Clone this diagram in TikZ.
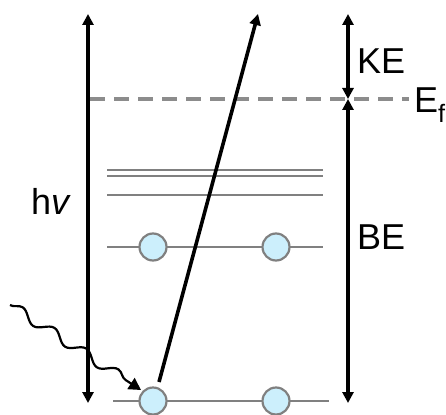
\documentclass[tikz,border=0pt]{standalone}
\usepackage{fontspec}
\setmainfont{Liberation Sans}
\usetikzlibrary{arrows.meta,decorations.pathmorphing}
\begin{document}
\begin{tikzpicture}[x=1pt,y=-1pt,
  tip/.style={-{Triangle[length=11pt,width=11pt]}},
  dtip/.style={{Triangle[length=11pt,width=11pt]}-{Triangle[length=11pt,width=11pt]}},
  bar/.style={line width=3.6pt,black},
  level/.style={draw=black!50,line width=2.2pt},
  electron/.style={circle,draw=black!50,line width=2.2pt,fill=cyan!20,minimum size=27pt,inner sep=0pt},
  lbl/.style={font=\fontsize{36}{40}\selectfont,inner sep=0pt}]
\useasboundingbox (0,0) rectangle (446,414);
% coordinates
\coordinate (hvT) at (88,14);
\coordinate (hvB) at (88,403);
\coordinate (keT) at (348,14);
\coordinate (ef) at (348,99);
\coordinate (beB) at (348,403);
\coordinate (dashL) at (90,99);
\coordinate (dashR) at (409,99);
% dashed Fermi level
\draw[draw=black!45,line width=3.2pt,dash pattern=on 15pt off 9pt] (dashL) -- (dashR);
% levels
\coordinate (l1a) at (107,170); \coordinate (l1b) at (323,170);
\coordinate (l2a) at (107,176); \coordinate (l2b) at (323,176);
\coordinate (l3a) at (107,195); \coordinate (l3b) at (323,195);
\coordinate (l4a) at (107,247); \coordinate (l4b) at (323,247);
\coordinate (l5a) at (113,401); \coordinate (l5b) at (329,401);
\draw[level] (l1a) -- (l1b);
\draw[level] (l2a) -- (l2b);
\draw[level] (l3a) -- (l3b);
\draw[level] (l4a) -- (l4b);
\draw[level] (l5a) -- (l5b);
\node[electron] (e1) at (153,247) {};
\node[electron] (e2) at (276,247) {};
\node[electron] (e3) at (153,401) {};
\node[electron] (e4) at (276,401) {};
% vertical arrows
\draw[bar,dtip] (hvT) -- (hvB);
\draw[bar,dtip] (keT) -- (ef);
\draw[bar,dtip] (ef) -- (beB);
% photoelectron
\coordinate (pS) at (159,382);
\coordinate (pE) at (258,14);
\draw[bar,tip] (pS) -- (pE);
% photon
\coordinate (phS) at (10,305);
\coordinate (phE) at (141,390);
\draw[line width=2.2pt,black,-{Triangle[length=12pt,width=13pt]},
  decoration={snake,segment length=38pt,amplitude=5pt,pre length=0pt,post length=12pt},decorate] (phS) -- (phE);
% labels
\node[lbl,anchor=base west] (ke) at (357,74) {KE};
\node[lbl,anchor=base west] (be) at (357,249) {BE};
\node[lbl,anchor=base west] (hv) at (31,214) {h\textit{v}};
\node[lbl,anchor=base west] (efl) at (414,113) {E\textsubscript{f}};
\end{tikzpicture}
\end{document}
